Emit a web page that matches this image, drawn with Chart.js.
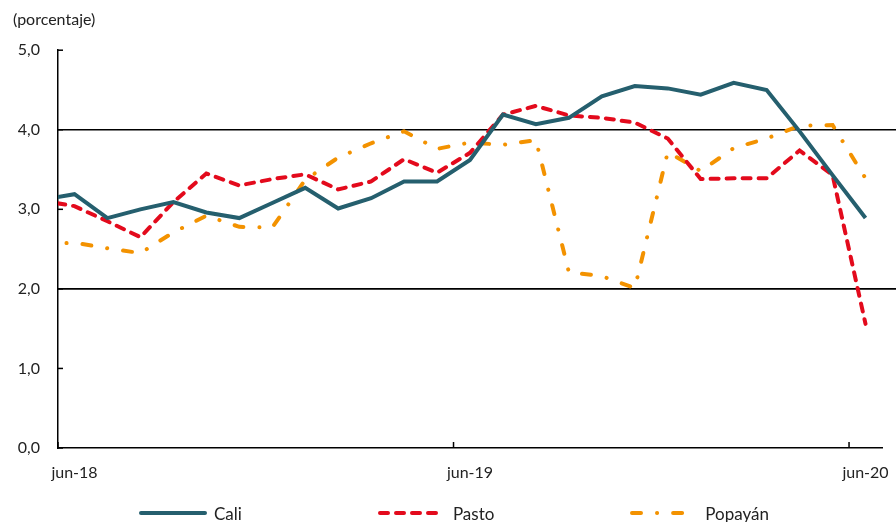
<!DOCTYPE html>
<html>
<head>
<meta charset="utf-8">
<script src="https://cdn.jsdelivr.net/npm/chart.js@4"></script>
<style>
  html, body { margin: 0; padding: 0; background: #fff; }
  #wrap { position: relative; width: 896px; height: 522px; }
  #legend {
    position: absolute; left: 139px; top: 504px;
    display: flex; gap: 136px;
    font-family: Lato, sans-serif; font-size: 17px; color: #222;
  }
  #legend .item { display: flex; align-items: center; gap: 7px; height: 18px; }
</style>
</head>
<body>
<div id="wrap">
  <canvas id="myChart" width="896" height="522"></canvas>
  <div id="legend"></div>
</div>
<script>
// data (may-18 only shows as the clipped start of each line)
const months = ['may-18', 'jun-18', 'jul-18', 'ago-18', 'sep-18', 'oct-18', 'nov-18', 'dic-18',
  'ene-19', 'feb-19', 'mar-19', 'abr-19', 'may-19', 'jun-19', 'jul-19', 'ago-19', 'sep-19',
  'oct-19', 'nov-19', 'dic-19', 'ene-20', 'feb-20', 'mar-20', 'abr-20', 'may-20', 'jun-20'];

const cali = [3.12, 3.19, 2.89, 3.00, 3.09, 2.96, 2.89, 3.08, 3.27, 3.01, 3.14, 3.35, 3.35,
  3.62, 4.19, 4.07, 4.15, 4.42, 4.55, 4.52, 4.44, 4.59, 4.50, 3.98, 3.43, 2.89];
const pasto = [3.11, 3.04, 2.85, 2.65, 3.09, 3.45, 3.30, 3.38, 3.44, 3.25, 3.35, 3.63, 3.46,
  3.71, 4.19, 4.30, 4.18, 4.15, 4.09, 3.89, 3.38, 3.39, 3.39, 3.74, 3.43, 1.56];
const popayan = [2.56, 2.58, 2.51, 2.45, 2.71, 2.92, 2.78, 2.77, 3.37, 3.65, 3.83, 3.98, 3.76,
  3.84, 3.81, 3.87, 2.21, 2.16, 2.01, 3.72, 3.48, 3.77, 3.89, 4.05, 4.06, 3.39];

const rangoMeta = [2, 4];
const yTicks = [0, 1, 2, 3, 4, 5];
const xLabelIdx = [1, 13, 25];   // jun-18, jun-19, jun-20

const fontFamily = 'Lato, sans-serif';

function toPoints(values) {
  return values.map((v, i) => ({ x: i, y: v }));
}

// target range lines + inner tick marks
const extras = {
  id: 'extras',
  beforeDatasetsDraw(chart) {
    const { ctx, chartArea, scales: { y } } = chart;
    ctx.save();
    ctx.strokeStyle = '#000';
    ctx.lineWidth = 1.6;
    rangoMeta.forEach(v => {
      const py = y.getPixelForValue(v);
      ctx.beginPath();
      ctx.moveTo(chartArea.left, py);
      ctx.lineTo(chart.width, py);
      ctx.stroke();
    });
    ctx.restore();
  },
  afterDraw(chart) {
    const { ctx, chartArea, scales: { x, y } } = chart;
    ctx.save();
    ctx.strokeStyle = '#000';
    ctx.lineWidth = 1.5;
    yTicks.forEach(v => {
      const py = y.getPixelForValue(v);
      ctx.beginPath();
      ctx.moveTo(chartArea.left, py);
      ctx.lineTo(chartArea.left + 5, py);
      ctx.stroke();
    });
    xLabelIdx.forEach(i => {
      const px = x.getPixelForValue(i - 0.5);
      ctx.beginPath();
      ctx.moveTo(px, chartArea.bottom);
      ctx.lineTo(px, chartArea.bottom - 6);
      ctx.stroke();
    });
    ctx.restore();
  }
};

const chart = new Chart(document.getElementById('myChart'), {
  type: 'line',
  data: {
    datasets: [{
      label: 'Cali',
      data: toPoints(cali),
      borderColor: '#255F6E',
      borderWidth: 4,
      borderJoinStyle: 'miter',
    }, {
      label: 'Pasto',
      data: toPoints(pasto),
      borderColor: '#E30A1C',
      borderWidth: 4,
      borderDash: [8, 8],
      borderCapStyle: 'round',
    }, {
      label: 'Popayán',
      data: toPoints(popayan),
      borderColor: '#F39200',
      borderWidth: 4,
      borderDash: [9, 16, 0.1, 16],
      borderCapStyle: 'round',
    }]
  },
  options: {
    responsive: false,
    animation: false,
    events: [],
    elements: { point: { radius: 0 }, line: { tension: 0 } },
    layout: { padding: { left: 13, right: 14, top: 0, bottom: 39 } },
    plugins: {
      legend: { display: false },
      tooltip: { enabled: false },
      title: {
        display: true,
        text: '(porcentaje)',
        align: 'start',
        color: '#222',
        font: { family: fontFamily, size: 16, weight: 'normal' },
        padding: { top: 10, bottom: 21 }
      }
    },
    scales: {
      x: {
        type: 'linear',
        min: 0.5,
        max: 25.5,
        grid: { display: false, drawTicks: false },
        border: { display: true, color: '#000', width: 1.5 },
        afterBuildTicks: scale => { scale.ticks = xLabelIdx.map(v => ({ value: v })); },
        afterFit: scale => {
          scale.height = 35;
          scale.paddingLeft = 0;
          scale.paddingRight = 0;
        },
        ticks: {
          autoSkip: false,
          maxRotation: 0,
          padding: 15,
          color: '#222',
          font: { family: fontFamily, size: 16 },
          callback: v => months[v]
        }
      },
      y: {
        min: 0,
        max: 5,
        grid: { display: false, drawTicks: false },
        border: { display: true, color: '#000', width: 1.5 },
        afterFit: scale => { scale.width = 45; },
        ticks: {
          stepSize: 1,
          padding: 18,
          color: '#222',
          font: { family: fontFamily, size: 16 },
          callback: v => v.toFixed(1).replace('.', ',')
        }
      }
    }
  },
  plugins: [extras]
});

// html legend built from the datasets
const legend = document.getElementById('legend');
chart.data.datasets.forEach(ds => {
  const item = document.createElement('div');
  item.className = 'item';
  const dash = ds.borderDash ? ds.borderDash.join(' ') : 'none';
  const cap = ds.borderCapStyle || 'butt';
  item.innerHTML =
    `<svg width="68" height="8"><line x1="2" y1="4" x2="66" y2="4" stroke="${ds.borderColor}" ` +
    `stroke-width="4" stroke-linecap="${cap === 'butt' ? 'round' : cap}" stroke-dasharray="${dash}"/></svg>` +
    `<span>${ds.label}</span>`;
  legend.appendChild(item);
});
</script>
</body>
</html>
